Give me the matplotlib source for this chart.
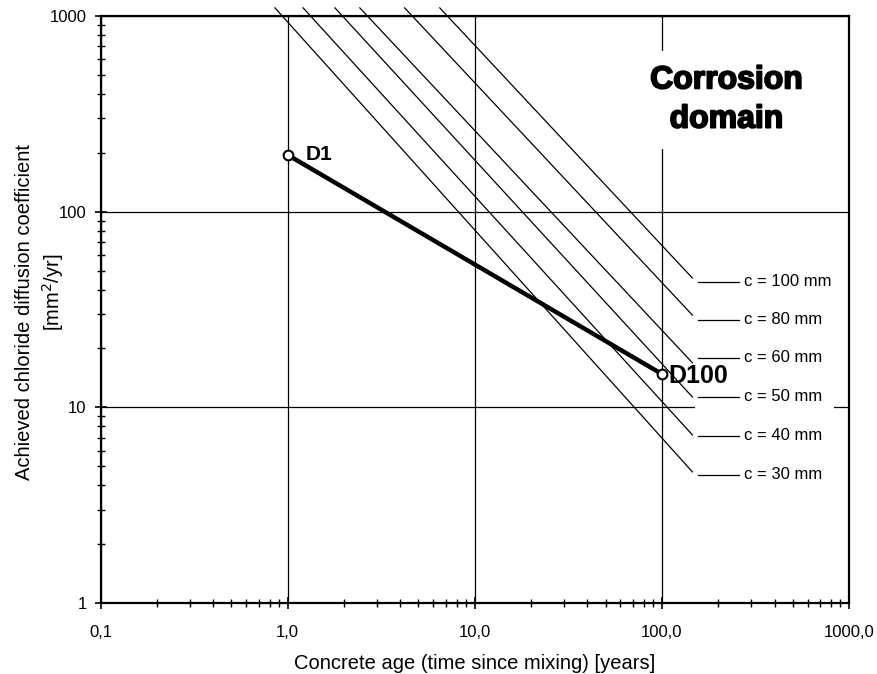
import matplotlib.pyplot as plt
import matplotlib.patheffects as pe
from matplotlib.patches import Rectangle
from matplotlib.ticker import FixedLocator, LogLocator, NullFormatter

plt.rcParams['font.family'] = ['Liberation Sans', 'DejaVu Sans']

# achieved diffusion coefficient, D1 -> D100
age = [1.0, 100.0]
diff = [195.0, 14.8]
point_names = ['D1', 'D100']

# cover depth lines (start and end points)
cover = [30, 40, 50, 60, 80, 100]
line_t0 = [0.855, 1.21, 1.79, 2.43, 4.22, 6.5]
line_t1 = [145.5, 145.5, 145.5, 145.5, 145.5, 145.5]
line_d0 = [1100.0, 1100.0, 1100.0, 1100.0, 1100.0, 1100.0]
line_d1 = [4.68, 7.23, 11.3, 16.9, 29.6, 45.8]
label_d = [4.52, 7.15, 11.3, 17.9, 28.0, 43.8]

xticks = [0.1, 1, 10, 100, 1000]
xticklabels = ['0,1', '1,0', '10,0', '100,0', '1000,0']
yticks = [1, 10, 100, 1000]
yticklabels = ['1', '10', '100', '1000']

fig = plt.figure(figsize=(8.78, 6.74), dpi=100)
ax = fig.add_axes([0.1145, 0.1053, 0.8525, 0.871])
ax.set_xscale('log')
ax.set_yscale('log')
ax.set_xlim(0.1, 1000)
ax.set_ylim(1, 1000)

ax.xaxis.set_major_locator(FixedLocator(xticks))
ax.set_xticklabels(xticklabels)
ax.yaxis.set_major_locator(FixedLocator(yticks))
ax.set_yticklabels(yticklabels)
ax.xaxis.set_minor_locator(LogLocator(base=10, subs=range(2, 10)))
ax.yaxis.set_minor_locator(LogLocator(base=10, subs=range(2, 10)))
ax.xaxis.set_minor_formatter(NullFormatter())
ax.yaxis.set_minor_formatter(NullFormatter())
ax.tick_params(which='major', direction='inout', length=8, width=1.2, labelsize=12)
ax.tick_params(axis='x', which='major', pad=12)
ax.tick_params(axis='y', which='major', pad=6)
ax.tick_params(which='minor', direction='inout', length=6, width=1)

ax.grid(True, which='major', color='black', linewidth=0.9)
for s in ax.spines.values():
    s.set_linewidth(1.6)

# cover depth lines
for i in range(len(cover)):
    ax.plot([line_t0[i], line_t1[i]], [line_d0[i], line_d1[i]], color='black',
            linewidth=0.9, clip_on=False, zorder=3)

# white area behind the labels
ax.add_patch(Rectangle((150, 3.9), 686, 48, facecolor='white', edgecolor='none', zorder=2.5))
for i in range(len(cover)):
    ax.plot([155, 259], [label_d[i], label_d[i]], color='black', linewidth=0.9, zorder=3)
    ax.text(276, label_d[i], 'c = %d mm' % cover[i], fontsize=12, va='center', ha='left', zorder=4)

ax.plot(age, diff, color='black', linewidth=3.2, zorder=5)
ax.plot(age, diff, 'o', markerfacecolor='white', markeredgecolor='black', markersize=7,
        markeredgewidth=1.5, zorder=6)
ax.text(1.24, 195, point_names[0], fontsize=15, fontweight='bold', va='center', ha='left', zorder=6)
ax.text(108, 14.5, point_names[1], fontsize=18, fontweight='bold', va='center', ha='left', zorder=6)

ax.text(221, 372, 'Corrosion\ndomain', fontsize=23, fontweight='bold', ha='center', va='center',
        linespacing=1.4, zorder=4,
        path_effects=[pe.withStroke(linewidth=1.3, foreground='black')],
        bbox=dict(boxstyle='square,pad=0.45', facecolor='white', edgecolor='none'))

ax.set_xlabel('Concrete age (time since mixing) [years]', fontsize=14.5, labelpad=10)
fig.text(0.028, 0.537, 'Achieved chloride diffusion coefficient', rotation=90, fontsize=14.5,
         ha='center', va='center')
fig.text(0.06, 0.567, '[mm$^2$/yr]', rotation=90, fontsize=14.5, ha='center', va='center')

fig.savefig('out.png', dpi=100)
